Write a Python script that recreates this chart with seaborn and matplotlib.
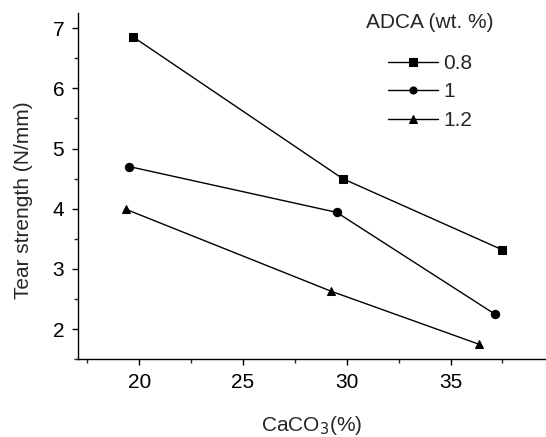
import matplotlib
matplotlib.use("Agg")
import matplotlib.pyplot as plt
from matplotlib.ticker import MultipleLocator
import seaborn as sns
import pandas as pd

# values
adca_levels = ["0.8", "1", "1.2"]
caco3_08 = [19.68, 29.80, 37.48]
tear_08 = [6.86, 4.50, 3.32]
caco3_1 = [19.52, 29.51, 37.13]
tear_1 = [4.70, 3.94, 2.25]
caco3_12 = [19.36, 29.24, 36.36]
tear_12 = [3.99, 2.63, 1.75]

df = pd.DataFrame({
    "caco3": caco3_08 + caco3_1 + caco3_12,
    "tear": tear_08 + tear_1 + tear_12,
    "ADCA": [adca_levels[0]] * 3 + [adca_levels[1]] * 3 + [adca_levels[2]] * 3,
})

sns.set_style("ticks")
plt.rcParams['font.family'] = ['Liberation Sans', 'DejaVu Sans']

fig = plt.figure(figsize=(5.46, 4.37), dpi=100)
ax = fig.add_axes([0.143, 0.178, 0.857, 0.792])

sns.lineplot(data=df, x="caco3", y="tear", hue="ADCA", style="ADCA",
             hue_order=adca_levels, style_order=adca_levels,
             palette=["black"] * 3, markers=["s", "o", "^"], dashes=False,
             markersize=6, markeredgecolor="black", linewidth=1,
             sort=False, ax=ax)

ax.set_xlim(17.05, 39.6)
ax.set_ylim(1.5, 7.25)
ax.xaxis.set_major_locator(MultipleLocator(5))
ax.xaxis.set_minor_locator(MultipleLocator(2.5))
ax.yaxis.set_major_locator(MultipleLocator(1))
ax.yaxis.set_minor_locator(MultipleLocator(0.5))
ax.tick_params(which="major", direction="out", length=4, width=1, labelsize=15,
               colors="black", pad=6)
ax.tick_params(which="minor", direction="out", length=3, width=1)
sns.despine(ax=ax)
for s in ["left", "bottom"]:
    ax.spines[s].set_linewidth(1)
    ax.spines[s].set_color("black")

ax.set_xlabel("CaCO$_3$(%)", fontsize=15, labelpad=16)
ax.set_ylabel("Tear strength (N/mm)", fontsize=15, labelpad=14)
ax.yaxis.label.set_y(0.46)

leg = ax.legend(title="ADCA (wt. %)", frameon=False, fontsize=15, title_fontsize=15,
                loc="upper center", bbox_to_anchor=(0.752, 1.055),
                handlelength=2.4, handletextpad=0.25, labelspacing=0.45,
                markerscale=0.85)
leg._legend_box.sep = 16

fig.savefig("out.png", dpi=100)
